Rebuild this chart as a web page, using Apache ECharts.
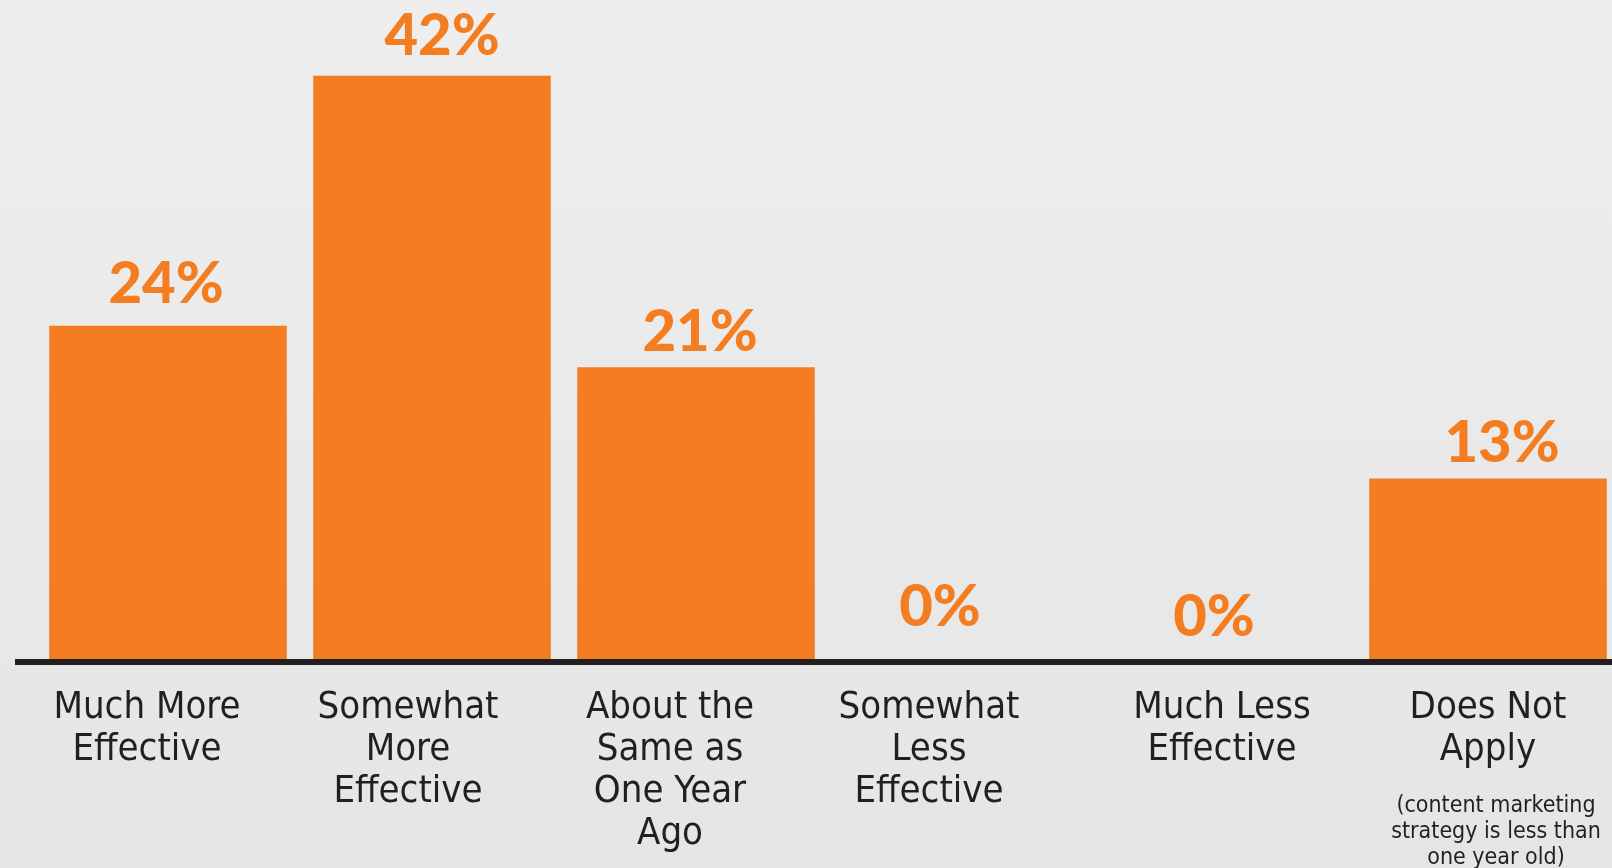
<!DOCTYPE html>
<html>
<head>
<meta charset="utf-8">
<title>Content marketing effectiveness</title>
<script src="https://cdn.jsdelivr.net/npm/echarts@6/dist/echarts.min.js"></script>
<style>
  html, body { margin: 0; padding: 0; }
  #chart { width: 1612px; height: 868px; }
</style>
</head>
<body>
<div id="chart"></div>
<script>
// data
var categories = [
  'Much More\nEffective',
  'Somewhat\nMore\nEffective',
  'About the\nSame as\nOne Year\nAgo',
  'Somewhat\nLess\nEffective',
  'Much Less\nEffective',
  'Does Not\nApply'
];
var notes = ['', '', '', '', '', '(content marketing\nstrategy is less than\none year old)'];
var values = [24, 42, 21, 0, 0, 13];

// small nudges so labels sit where the original put them
var labelShift = [[-2, -6], [10, -4], [4, 0], [-20, -17], [-10, -7], [14, 0]];
var catShift = [21, 24, 26, 31, 2, 0];

var orange = '#F47D22';
var ink = '#231F20';
var catFont = '"DejaVu Sans Condensed", Roboto, sans-serif';

var rich = {
  sp: { fontSize: 10, lineHeight: 22 },
  n: { fontFamily: catFont, fontSize: 23, lineHeight: 26, color: ink, padding: [0, 0, 0, 16] }
};
catShift.forEach(function (s, i) {
  rich['c' + i] = {
    fontFamily: catFont, fontSize: 38, lineHeight: 42, color: ink,
    padding: [0, s * 2, 0, 0]
  };
});

var chart = echarts.init(document.getElementById('chart'));
chart.setOption({
  backgroundColor: {
    type: 'linear', x: 0, y: 0, x2: 0, y2: 1,
    colorStops: [{ offset: 0, color: '#EDEEED' }, { offset: 1, color: '#E5E5E5' }]
  },
  animation: false,
  grid: { left: 36, top: 34, width: 1584, height: 625, outerBoundsMode: 'none', containLabel: false },
  xAxis: {
    type: 'category',
    data: categories,
    axisLine: { show: false },
    axisTick: { show: false },
    axisLabel: {
      interval: 0,
      margin: 28,
      verticalAlign: 'top',
      formatter: function (val, idx) {
        var s = val.split('\n').map(function (l) {
          return '{c' + idx + '|' + l + '}';
        }).join('\n');
        if (notes[idx]) {
          s += '\n{sp| }\n' + notes[idx].split('\n').map(function (l) {
            return '{n|' + l + '}';
          }).join('\n');
        }
        return s;
      },
      rich: rich
    }
  },
  yAxis: {
    type: 'value', min: 0, max: 45, show: false,
    splitLine: { show: false }
  },
  // baseline under the bars
  graphic: [{
    type: 'rect', left: 15, top: 659,
    shape: { width: 1597, height: 6 },
    style: { fill: ink }
  }],
  series: [{
    type: 'bar',
    barCategoryGap: '10%',
    itemStyle: { color: orange },
    label: {
      show: true,
      position: 'top',
      distance: 6,
      color: orange,
      fontFamily: 'Lato, "Open Sans", sans-serif',
      fontWeight: 900,
      fontSize: 58,
      lineHeight: 58,
      formatter: '{c}%'
    },
    data: values.map(function (v, i) {
      return { value: v, label: { offset: labelShift[i] } };
    })
  }]
});
</script>
</body>
</html>
